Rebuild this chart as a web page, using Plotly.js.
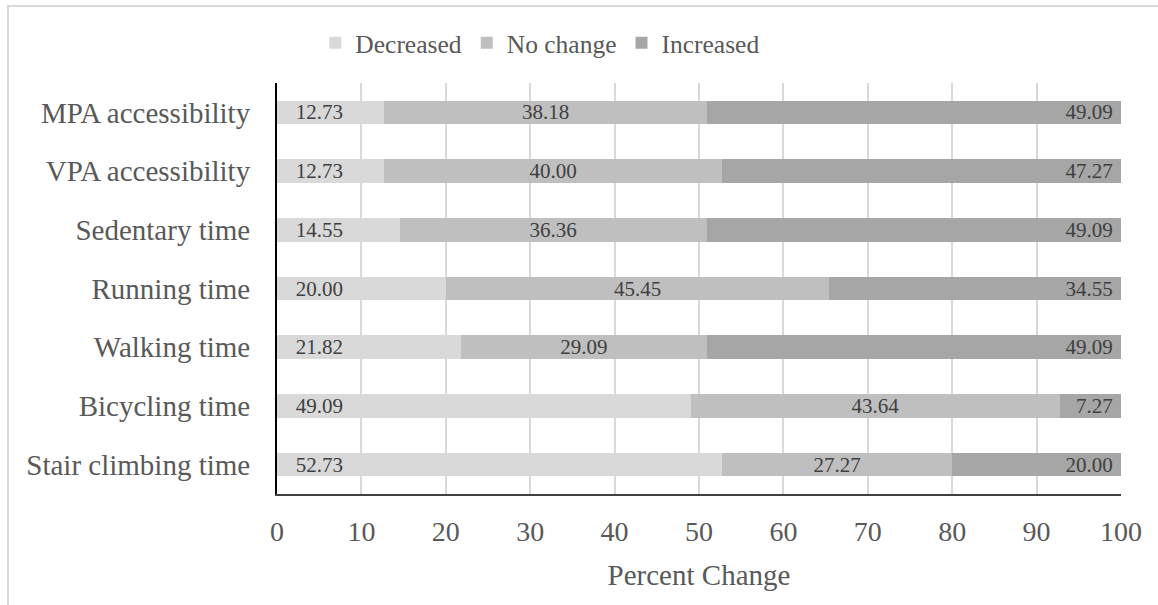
<!DOCTYPE html>
<html>
<head>
<meta charset="utf-8">
<script src="https://cdn.plot.ly/plotly-3.0.1.min.js"></script>
<style>
  html, body { margin: 0; padding: 0; background: #ffffff; overflow: hidden; }
  #frame { position: absolute; left: 7px; top: 5px; width: 1200px; height: 700px;
           border-left: 2px solid #d9d9d9; border-top: 2px solid #d9d9d9; }
  #chart { position: absolute; left: 0; top: 0; width: 1158px; height: 605px; }
  #chart .main-svg text { font-family: "Liberation Serif", "Times New Roman", serif !important; }
</style>
</head>
<body>
<div id="frame"></div>
<div id="chart"></div>
<script>
// Activity measures, listed bottom to top
const categories = [
  "Stair climbing time",
  "Bicycling time",
  "Walking time",
  "Running time",
  "Sedentary time",
  "VPA accessibility",
  "MPA accessibility"
];
const decreased = [52.73, 49.09, 21.82, 20.00, 14.55, 12.73, 12.73];
const noChange  = [27.27, 43.64, 29.09, 45.45, 36.36, 40.00, 38.18];
const increased = [20.00,  7.27, 49.09, 34.55, 49.09, 47.27, 49.09];
const xTicks = [0, 10, 20, 30, 40, 50, 60, 70, 80, 90, 100];

const serif = "'Liberation Serif', 'Times New Roman', serif";
const NB = "\u00a0";

function series(name, values, color, anchor, template) {
  return {
    type: "bar",
    orientation: "h",
    name: name,
    y: categories,
    x: values,
    marker: { color: color, line: { width: 0 } },
    texttemplate: template,
    textposition: "inside",
    insidetextanchor: anchor,
    textangle: 0,
    constraintext: "none",
    textfont: { family: serif, size: 21, color: "#404040" },
    hoverinfo: "name+x+y"
  };
}

const data = [
  series("Decreased", decreased, "#d9d9d9", "start", NB + NB + NB + "%{x:.2f}"),
  series("No change", noChange, "#bfbfbf", "middle", "%{x:.2f}"),
  series("Increased", increased, "#a6a6a6", "end", "%{x:.2f}" + NB)
];

const layout = {
  width: 1158,
  height: 605,
  barmode: "stack",
  bargap: 0.6,
  paper_bgcolor: "rgba(0,0,0,0)",
  plot_bgcolor: "rgba(0,0,0,0)",
  margin: { l: 277, r: 37, t: 83, b: 111, pad: 0 },
  font: { family: serif, color: "#595959" },
  showlegend: true,
  legend: {
    orientation: "h",
    x: 0.312, xanchor: "center",
    y: 1.097, yanchor: "middle",
    font: { family: serif, size: 25.5, color: "#595959" },
    itemwidth: 30,
    tracegroupgap: 0,
    traceorder: "normal",
    bgcolor: "rgba(0,0,0,0)"
  },
  xaxis: {
    range: [0, 100],
    tickvals: xTicks,
    ticktext: xTicks.map(String),
    showgrid: true,
    gridcolor: "#d9d9d9",
    gridwidth: 2,
    zeroline: false,
    showline: true,
    linecolor: "#404040",
    linewidth: 2,
    ticks: "",
    ticklabelstandoff: 11,
    tickfont: { family: serif, size: 28, color: "#595959" },
    title: { text: "Percent Change", font: { family: serif, size: 29, color: "#595959" }, standoff: 19 },
    fixedrange: true
  },
  yaxis: {
    type: "category",
    categoryorder: "array",
    categoryarray: categories,
    showgrid: false,
    zeroline: false,
    showline: true,
    linecolor: "#000000",
    linewidth: 2,
    ticks: "",
    ticklabelstandoff: 19,
    tickfont: { family: serif, size: 29, color: "#595959" },
    fixedrange: true
  }
};

Plotly.newPlot("chart", data, layout, { displayModeBar: false, staticPlot: true });
</script>
</body>
</html>
